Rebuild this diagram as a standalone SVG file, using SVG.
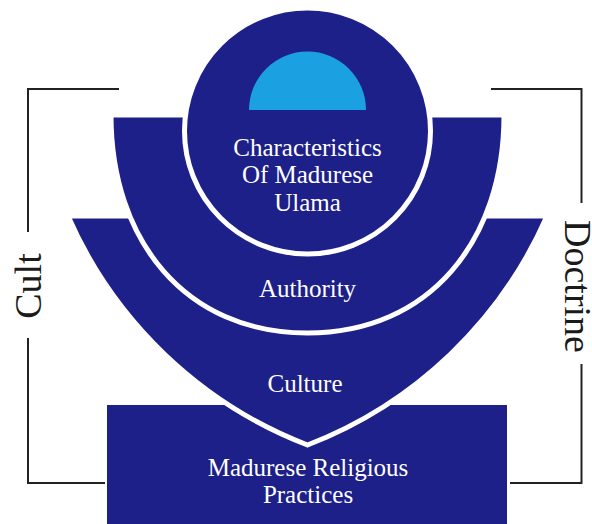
<svg xmlns="http://www.w3.org/2000/svg" width="592" height="524" viewBox="0 0 592 524">
  <style>
    .band { fill: #1d2088; stroke: #ffffff; stroke-width: 5; }
    .box { fill: #1d2088; }
    .label { font-family: "Liberation Serif", "Times New Roman", serif; font-size: 25px; fill: #ffffff; text-anchor: middle; }
    .side { font-family: "Liberation Serif", "Times New Roman", serif; font-size: 38px; fill: #1a1a1a; text-anchor: middle; }
    .bracket { fill: none; stroke: #222222; stroke-width: 2; }
  </style>

  <rect width="592" height="524" fill="#ffffff"/>

  <!-- bottom block -->
  <g id="practices">
    <rect class="box" x="107" y="405" width="400" height="125"/>
    <text class="label" x="308" y="476">Madurese Religious</text>
    <text class="label" x="308" y="503">Practices</text>
  </g>

  <!-- outer pointed band -->
  <g id="culture">
    <path class="band" d="M68,216 H547 A430,430 0 0,1 307.5,445 A430,430 0 0,1 68,216 Z"/>
    <text class="label" x="305" y="392">Culture</text>
  </g>

  <!-- middle rounded band -->
  <g id="authority">
    <path class="band" d="M111,115 H504 C504,240 430,333 307.5,333 C185,333 111,240 111,115 Z"/>
    <text class="label" x="307.5" y="297">Authority</text>
  </g>

  <!-- central disc -->
  <g id="core">
    <circle class="band" cx="307.5" cy="131" r="123"/>
    <path d="M249,110 A58.5,58.5 0 0,1 366,110 Z" fill="#1ba1e2"/>
    <text class="label" x="307.5" y="156">Characteristics</text>
    <text class="label" x="307.5" y="183">Of Madurese</text>
    <text class="label" x="307.5" y="210.5">Ulama</text>
  </g>

  <!-- side brackets -->
  <g id="connectors">
    <path class="bracket" d="M119,89 H28 V232"/>
    <path class="bracket" d="M28,338 V483 H105"/>
    <path class="bracket" d="M491,89 H581.5 V203"/>
    <path class="bracket" d="M581.5,364 V483 H510"/>
    <text class="side" transform="translate(41,286) rotate(-90)">Cult</text>
    <text class="side" transform="translate(565,286.5) rotate(90)">Doctrine</text>
  </g>
</svg>
